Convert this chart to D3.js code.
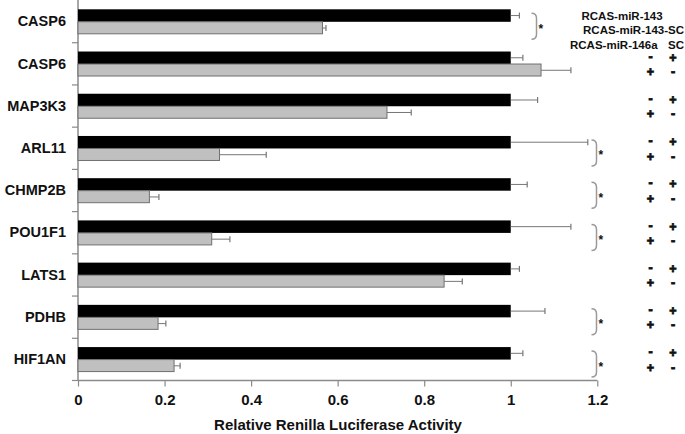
<!DOCTYPE html>
<html><head><meta charset="utf-8">
<script src="https://cdn.jsdelivr.net/npm/d3@7/dist/d3.min.js"></script>
<style>body{margin:0;background:#fff}svg{display:block;font-family:"Liberation Sans",Arial,sans-serif}</style>
</head><body><svg id="c" width="685" height="434"></svg>
<script>
const categories = ["CASP6","CASP6","MAP3K3","ARL11","CHMP2B","POU1F1","LATS1","PDHB","HIF1AN"];
const scValues = [1,1,1,1,1,1,1,1,1];
const scErr = [0.02,0.028,0.062,0.178,0.038,0.139,0.02,0.079,0.028];
const mirValues = [0.565,1.07,0.714,0.327,0.165,0.309,0.846,0.185,0.222];
const mirErr = [0.008,0.069,0.056,0.108,0.022,0.042,0.042,0.018,0.014];
const significant = [true,false,false,true,true,true,false,true,true];
const xTicks = [0,0.2,0.4,0.6,0.8,1,1.2];
const legendLines = ["RCAS-miR-143","RCAS-miR-143-SC","RCAS-miR-146a"];
const xTitle = "Relative Renilla Luciferase Activity";

const svg = d3.select("#c");
const x = d3.scaleLinear().domain([0,1.2]).range([78,597.3]);
const idx = categories.map((d,i)=>i);
const y = d3.scaleBand().domain(idx).range([0,380]);
const series = ["sc","mir"];
const ys = d3.scaleBand().domain(series).range([9.3,34.3]);
const axisCol = "#8a8a8a";

// axes lines
svg.append("line").attr("x1",x(0)).attr("x2",x(0)).attr("y1",0).attr("y2",380.5).attr("stroke",axisCol).attr("stroke-width",1.5);
svg.append("line").attr("x1",x(0)).attr("x2",x(1.2)).attr("y1",380.5).attr("y2",380.5).attr("stroke",axisCol).attr("stroke-width",1.5);
// y boundary ticks
const bounds = idx.map(i=>y(i)).concat([380]).slice(1);
svg.selectAll(".yt").data(bounds).join("line").attr("x1",x(0)-6).attr("x2",x(0)).attr("y1",d=>d+0.5).attr("y2",d=>d+0.5).attr("stroke",axisCol).attr("stroke-width",1.2);
// x ticks
const xa = svg.append("g").attr("transform","translate(0,380.5)")
  .call(d3.axisBottom(x).tickValues(xTicks).tickSize(6).tickPadding(8).tickFormat(d=>String(+d.toFixed(1))));
xa.select(".domain").remove();
xa.selectAll("line").attr("stroke",axisCol).attr("stroke-width",1.2);
xa.selectAll("text").attr("font-size",15).attr("font-weight","bold").attr("fill","#111");

// category labels
svg.selectAll(".cl").data(categories).join("text")
  .attr("x",66).attr("y",(d,i)=>y(i)+y.bandwidth()/2).attr("dy","0.36em")
  .attr("text-anchor","end").attr("font-size",14.5).attr("font-weight","bold").attr("fill","#111").text(d=>d);

// bars
const g = svg.append("g");
g.selectAll(".sc").data(scValues).join("rect")
  .attr("x",x(0)).attr("y",(d,i)=>y(i)+ys("sc")).attr("width",d=>x(d)-x(0)).attr("height",ys.bandwidth())
  .attr("fill","#000");
g.selectAll(".mir").data(mirValues).join("rect")
  .attr("x",x(0)).attr("y",(d,i)=>y(i)+ys("mir")).attr("width",d=>x(d)-x(0)).attr("height",ys.bandwidth()-0.5)
  .attr("fill","#c0c0c0").attr("stroke","#707070").attr("stroke-width",1);

// error bars
function errBars(vals, errs, s){
  const cy = i=>y(i)+ys(s)+ys.bandwidth()/2;
  g.selectAll(".e"+s).data(vals).join("line")
    .attr("x1",d=>x(d)).attr("x2",(d,i)=>x(d+errs[i])).attr("y1",(d,i)=>cy(i)).attr("y2",(d,i)=>cy(i))
    .attr("stroke","#777").attr("stroke-width",1);
  g.selectAll(".c"+s).data(vals).join("line")
    .attr("x1",(d,i)=>x(d+errs[i])).attr("x2",(d,i)=>x(d+errs[i])).attr("y1",(d,i)=>cy(i)-3).attr("y2",(d,i)=>cy(i)+3)
    .attr("stroke","#777").attr("stroke-width",1.2);
}
errBars(scValues, scErr, "sc");
errBars(mirValues, mirErr, "mir");

// significance brackets
significant.forEach((s,i)=>{
  if(!s) return;
  const x0 = i===0 ? 531.5 : 591.5;
  const top = y(i)+13.3, bot = y(i)+39.3, mid=(top+bot)/2;
  svg.append("path")
    .attr("d",`M${x0},${top} Q${x0+5},${top} ${x0+5},${top+5} L${x0+5},${bot-5} Q${x0+5},${bot} ${x0},${bot}`)
    .attr("fill","none").attr("stroke","#9a9a9a").attr("stroke-width",1.5);
  svg.append("text").attr("x",x0+7).attr("y",mid+6.5).attr("font-size",12).attr("font-weight","bold").attr("fill","#111").text("*");
});

// legend text
const lg = svg.append("g").attr("font-size",11.5).attr("font-weight","bold").attr("fill","#111");
lg.append("text").attr("x",581.5).attr("y",20).text(legendLines[0]);
lg.append("text").attr("x",684).attr("y",34).attr("text-anchor","end").text(legendLines[1]);
lg.append("text").attr("x",570).attr("y",48.5).text(legendLines[2]);
lg.append("text").attr("x",684).attr("y",48.5).attr("text-anchor","end").text("SC");

// +/- signs
idx.slice(1).forEach(i=>{
  const r1 = y(i)+ys("sc")+ys.bandwidth()/2 - 0.5, r2 = y(i)+ys("mir")+ys.bandwidth()/2 + 1.5;
  const t = (xx,yy,s)=>svg.append("text").attr("x",xx).attr("y",yy).attr("dy","0.35em").attr("text-anchor","middle")
      .attr("font-size",12.5).attr("font-weight","bold").attr("fill","#111")
      .attr("stroke","#111").attr("stroke-width",0.8).text(s);
  t(650.5,r1-1,"-"); t(673,r1,"+");
  t(650.5,r2,"+"); t(673,r2,"-");
});

// x title
svg.append("text").attr("x",338).attr("y",430).attr("text-anchor","middle").attr("font-size",15).attr("font-weight","bold").attr("fill","#111").text(xTitle);
</script></body></html>
